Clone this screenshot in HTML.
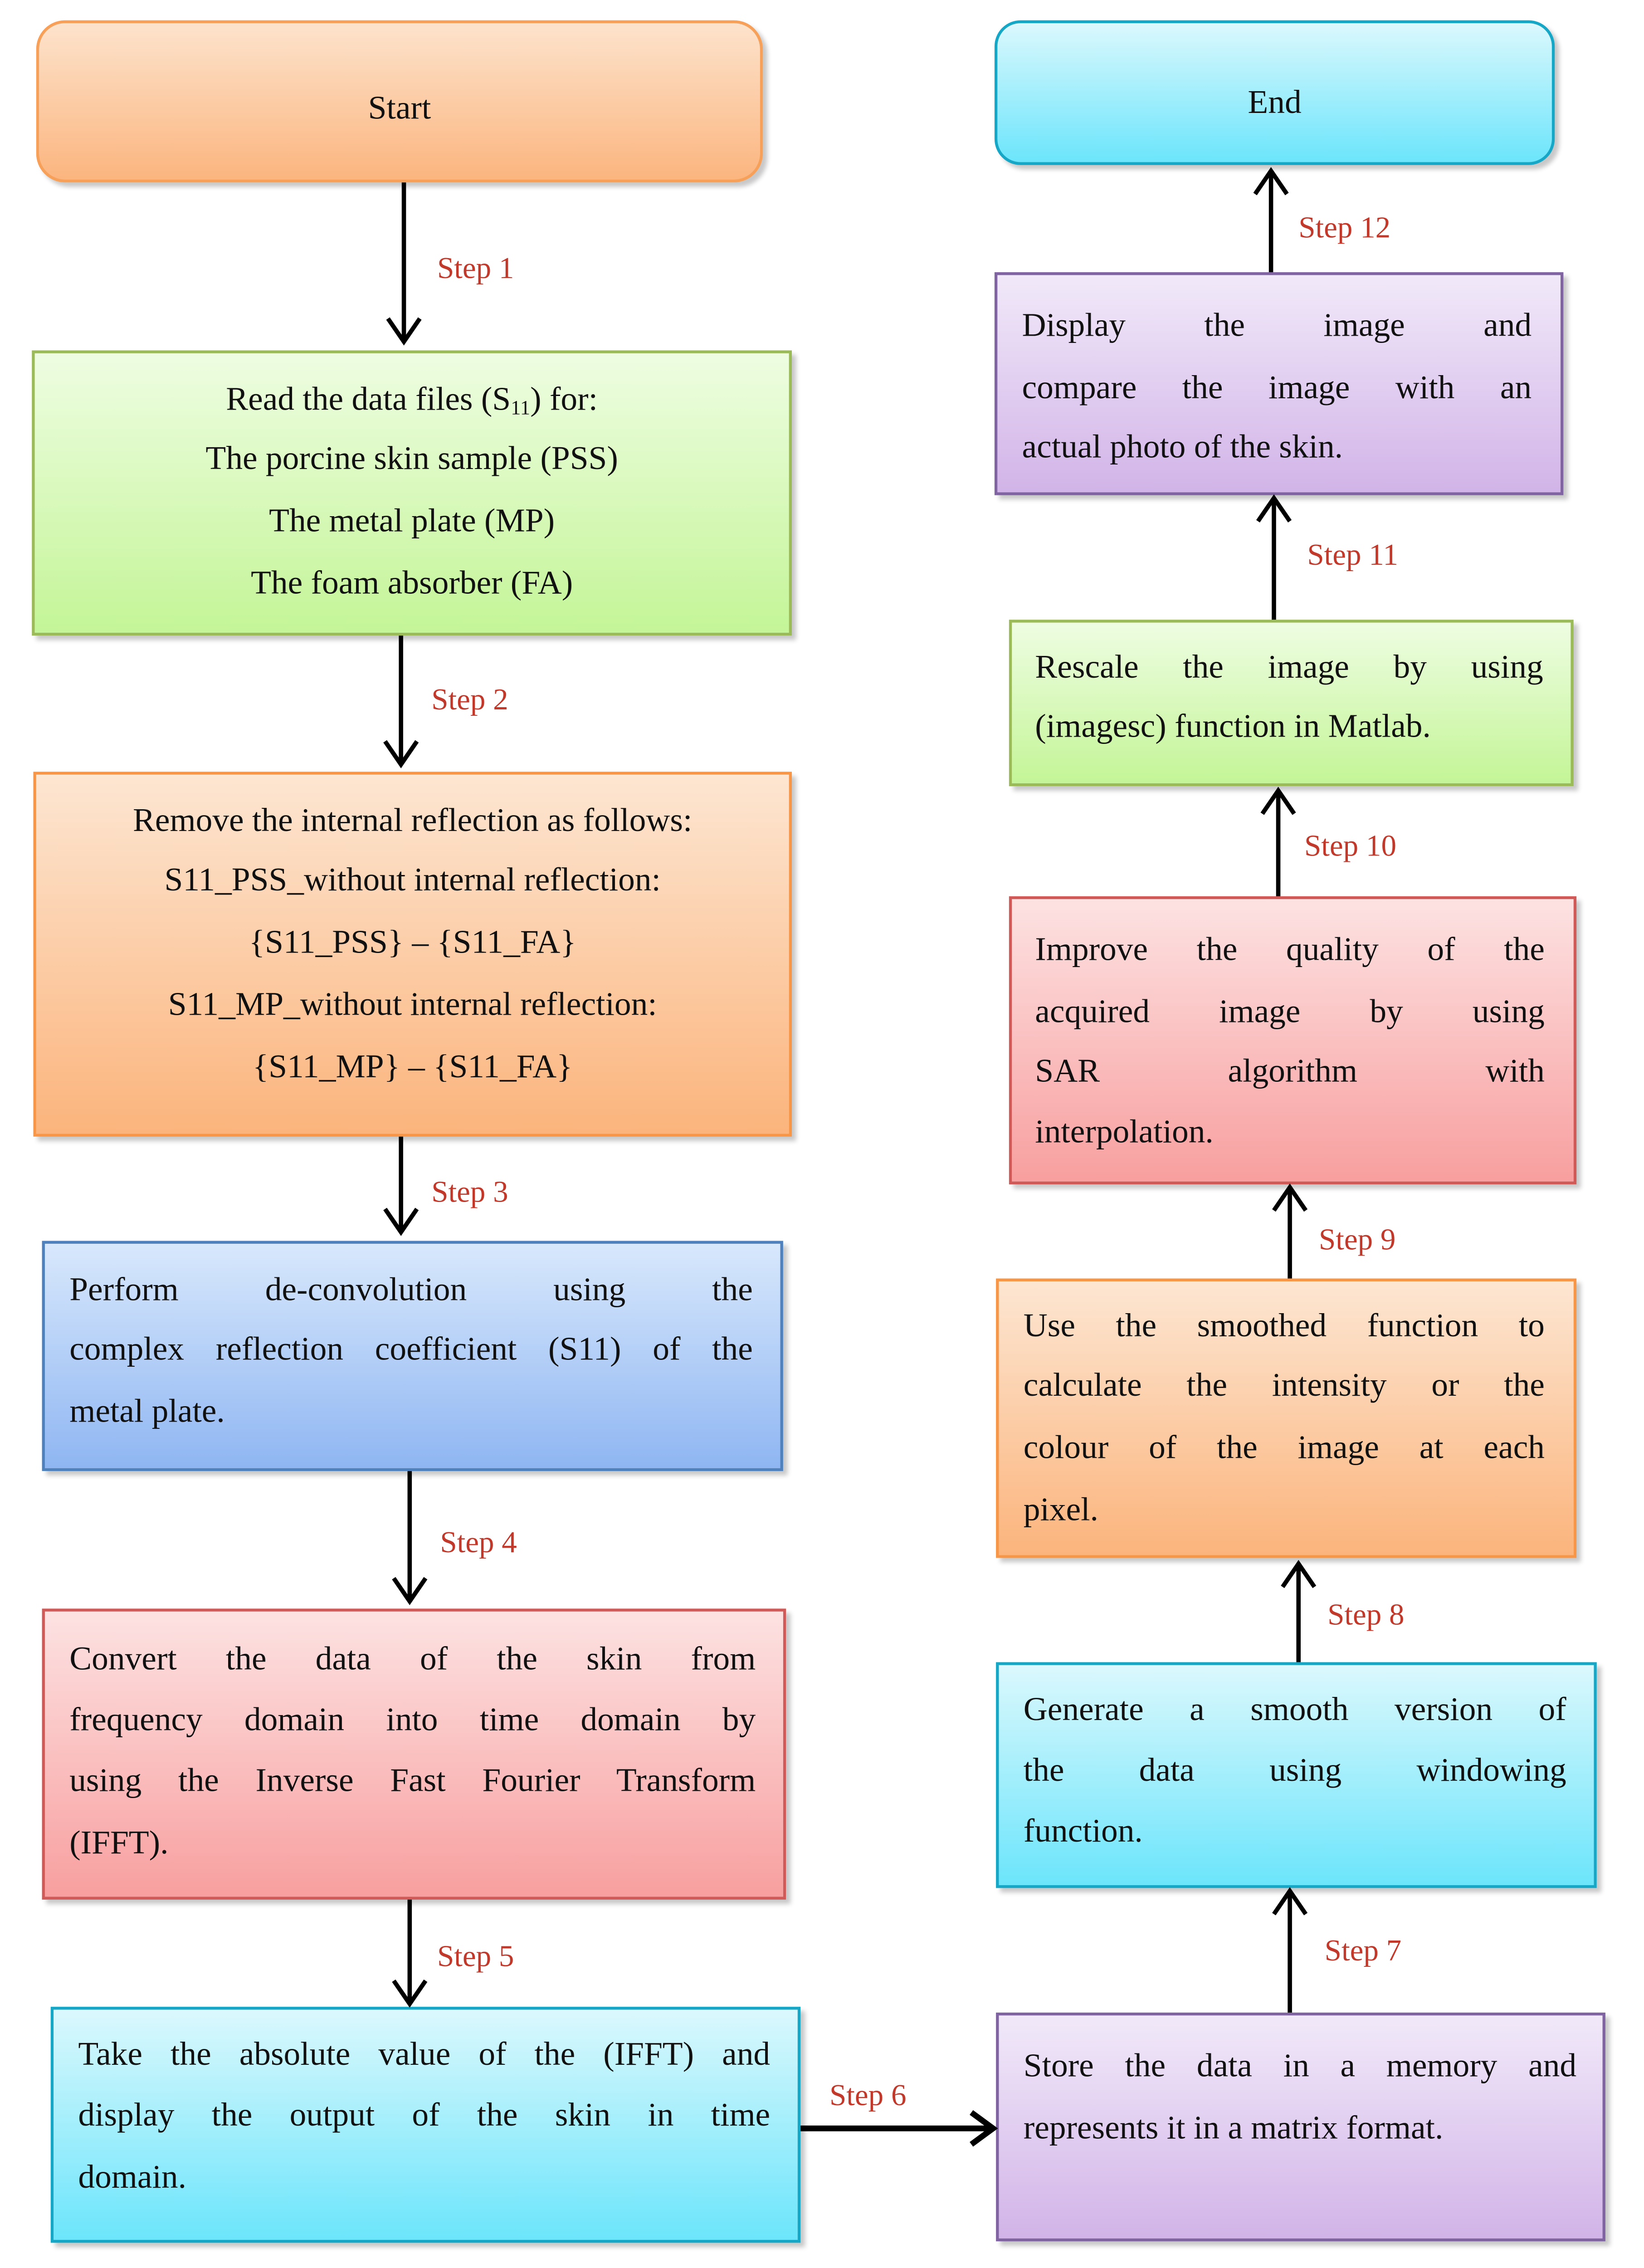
<!DOCTYPE html>
<html><head><meta charset="utf-8"><style>
html,body{margin:0;padding:0;background:#fff;width:3625px;height:5023px;overflow:hidden;}
#wrap{position:absolute;left:0;top:0;width:1136px;height:1574px;transform:scale(3.192,3.192);transform-origin:0 0;overflow:hidden;}
.b{position:absolute;box-sizing:border-box;box-shadow:3px 3px 3px rgba(0,0,0,0.22);}
.l{position:absolute;font-family:"Liberation Serif",serif;font-size:23px;line-height:28px;height:28px;color:#111;white-space:nowrap;}
.c{text-align:center;}
.j{text-align:justify;text-align-last:justify;white-space:normal;overflow:hidden;}
.s{position:absolute;font-family:"Liberation Serif",serif;font-size:21px;color:#c0392b;line-height:24px;}
svg{position:absolute;left:0;top:0;}
</style></head><body><div id="wrap">
<div class="b" style="left:25px;top:14px;width:502px;height:112px;border:2px solid #f7a05a;border-radius:20px;background:linear-gradient(#fde3cc,#fbb57f);"></div>
<div class="l c" style="left:25px;top:61px;width:502px;">Start</div>

<div class="b" style="left:22px;top:242px;width:525px;height:197px;border:2px solid #9bbb59;background:linear-gradient(#eefde2,#c4f597);"></div>
<div class="l c" style="left:22px;top:262px;width:525px;">Read the data files (S<span style="font-size:14px;vertical-align:-3px">11</span>) for:</div>
<div class="l c" style="left:22px;top:303px;width:525px;">The porcine skin sample (PSS)</div>
<div class="l c" style="left:22px;top:346px;width:525px;">The metal plate (MP)</div>
<div class="l c" style="left:22px;top:389px;width:525px;">The foam absorber (FA)</div>

<div class="b" style="left:23px;top:533px;width:524px;height:252px;border:2px solid #f79646;background:linear-gradient(#fde6d2,#fbb47c);"></div>
<div class="l c" style="left:23px;top:553px;width:524px;">Remove the internal reflection as follows:</div>
<div class="l c" style="left:23px;top:594px;width:524px;">S11_PSS_without internal reflection:</div>
<div class="l c" style="left:23px;top:637px;width:524px;">{S11_PSS} – {S11_FA}</div>
<div class="l c" style="left:23px;top:680px;width:524px;">S11_MP_without internal reflection:</div>
<div class="l c" style="left:23px;top:723px;width:524px;">{S11_MP} – {S11_FA}</div>

<div class="b" style="left:29px;top:857px;width:512px;height:159px;border:2px solid #4f81bd;background:linear-gradient(#d8e8fc,#8fb6f2);"></div>
<div class="l j" style="left:48px;top:877px;width:472px;">Perform de-convolution using the</div>
<div class="l j" style="left:48px;top:918px;width:472px;">complex reflection coefficient (S11) of the</div>
<div class="l" style="left:48px;top:961px;">metal plate.</div>

<div class="b" style="left:29px;top:1111px;width:514px;height:201px;border:2px solid #d05a57;background:linear-gradient(#fde2e2,#f89f9f);"></div>
<div class="l j" style="left:48px;top:1132px;width:474px;">Convert the data of the skin from</div>
<div class="l j" style="left:48px;top:1174px;width:474px;">frequency domain into time domain by</div>
<div class="l j" style="left:48px;top:1216px;width:474px;">using the Inverse Fast Fourier Transform</div>
<div class="l" style="left:48px;top:1259px;">(IFFT).</div>

<div class="b" style="left:35px;top:1386px;width:518px;height:163px;border:2px solid #17a7c6;background:linear-gradient(#dbf8fd,#6ce5fb);"></div>
<div class="l j" style="left:54px;top:1405px;width:478px;">Take the absolute value of the (IFFT) and</div>
<div class="l j" style="left:54px;top:1447px;width:478px;">display the output of the skin in time</div>
<div class="l" style="left:54px;top:1490px;">domain.</div>

<div class="b" style="left:688px;top:1390px;width:421px;height:158px;border:2px solid #8064a2;background:linear-gradient(#f1e9f9,#d2b4e8);"></div>
<div class="l j" style="left:707px;top:1413px;width:382px;">Store the data in a memory and</div>
<div class="l" style="left:707px;top:1456px;">represents it in a matrix format.</div>

<div class="b" style="left:688px;top:1148px;width:415px;height:156px;border:2px solid #17a7c6;background:linear-gradient(#dbf8fd,#6ce5fb);"></div>
<div class="l j" style="left:707px;top:1167px;width:375px;">Generate a smooth version of</div>
<div class="l j" style="left:707px;top:1209px;width:375px;">the data using windowing</div>
<div class="l" style="left:707px;top:1251px;">function.</div>

<div class="b" style="left:688px;top:883px;width:401px;height:193px;border:2px solid #f79646;background:linear-gradient(#fde6d2,#fbb47c);"></div>
<div class="l j" style="left:707px;top:902px;width:360px;">Use the smoothed function to</div>
<div class="l j" style="left:707px;top:943px;width:360px;">calculate the intensity or the</div>
<div class="l j" style="left:707px;top:986px;width:360px;">colour of the image at each</div>
<div class="l" style="left:707px;top:1029px;">pixel.</div>

<div class="b" style="left:697px;top:619px;width:392px;height:199px;border:2px solid #d05a57;background:linear-gradient(#fde2e2,#f89f9f);"></div>
<div class="l j" style="left:715px;top:642px;width:352px;">Improve the quality of the</div>
<div class="l j" style="left:715px;top:685px;width:352px;">acquired image by using</div>
<div class="l j" style="left:715px;top:726px;width:352px;">SAR algorithm with</div>
<div class="l" style="left:715px;top:768px;">interpolation.</div>

<div class="b" style="left:697px;top:428px;width:390px;height:115px;border:2px solid #9bbb59;background:linear-gradient(#eefde2,#c4f597);"></div>
<div class="l j" style="left:715px;top:447px;width:351px;">Rescale the image by using</div>
<div class="l" style="left:715px;top:488px;">(imagesc) function in Matlab.</div>

<div class="b" style="left:687px;top:188px;width:393px;height:154px;border:2px solid #8064a2;background:linear-gradient(#f1e9f9,#d2b4e8);"></div>
<div class="l j" style="left:706px;top:211px;width:352px;">Display the image and</div>
<div class="l j" style="left:706px;top:254px;width:352px;">compare the image with an</div>
<div class="l" style="left:706px;top:295px;">actual photo of the skin.</div>

<div class="b" style="left:687px;top:14px;width:387px;height:100px;border:2px solid #17a7c6;border-radius:18px;background:linear-gradient(#dbf8fd,#6ce5fb);"></div>
<div class="l c" style="left:687px;top:57px;width:387px;">End</div>

<svg width="1136" height="1574" viewBox="0 0 1136 1574" fill="none" stroke="#000" stroke-width="3">
<path d="M279 126V236M268 220L279 236L290 220"/>
<path d="M277 439V528M266 512L277 528L288 512"/>
<path d="M277 785V851M266 835L277 851L288 835"/>
<path d="M283 1016V1106M272 1090L283 1106L294 1090"/>
<path d="M283 1312V1384M272 1368L283 1384L294 1368"/>
<path d="M553 1470H686M671 1459L686 1470L671 1481" stroke-width="4"/>
<path d="M891 1390V1306M880 1322L891 1306L902 1322"/>
<path d="M897 1148V1080M886 1096L897 1080L908 1096"/>
<path d="M891 883V820M880 836L891 820L902 836"/>
<path d="M883 619V546M872 562L883 546L894 562"/>
<path d="M880 428V344M869 360L880 344L891 360"/>
<path d="M878 188V118M867 134L878 118L889 134"/>
</svg>
<div class="s" style="left:302px;top:173px;">Step 1</div>
<div class="s" style="left:298px;top:471px;">Step 2</div>
<div class="s" style="left:298px;top:811px;">Step 3</div>
<div class="s" style="left:304px;top:1053px;">Step 4</div>
<div class="s" style="left:302px;top:1339px;">Step 5</div>
<div class="s" style="left:573px;top:1435px;">Step 6</div>
<div class="s" style="left:915px;top:1335px;">Step 7</div>
<div class="s" style="left:917px;top:1103px;">Step 8</div>
<div class="s" style="left:911px;top:844px;">Step 9</div>
<div class="s" style="left:901px;top:572px;">Step 10</div>
<div class="s" style="left:903px;top:371px;">Step 11</div>
<div class="s" style="left:897px;top:145px;">Step 12</div>
</div></body></html>
